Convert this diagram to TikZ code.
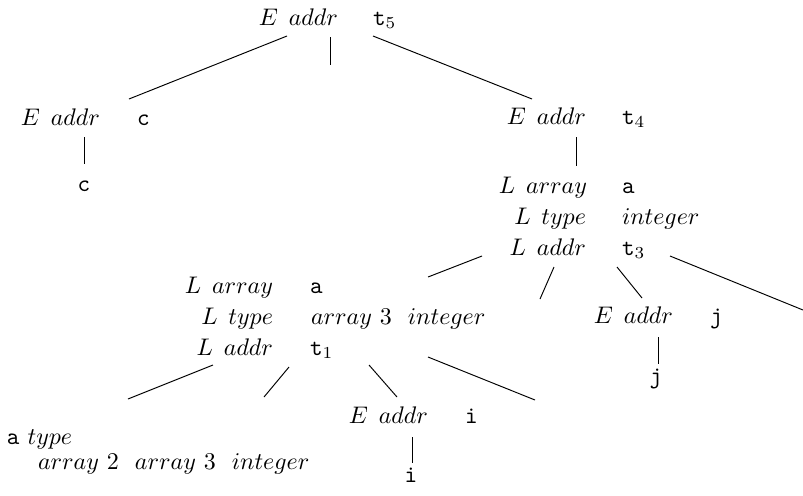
\documentclass[tikz,border=0pt]{standalone}
\newcommand{\tv}[1]{\texttt{#1}}
\newcommand{\at}[2]{$#1\hspace{4.5pt}#2$}
\begin{document}
\begin{tikzpicture}[x=0.4167pt,y=-0.4167pt,
  every node/.style={inner sep=0pt,outer sep=0pt},
  lbl/.style={anchor=base east},
  val/.style={anchor=base west},
  leaf/.style={anchor=base},
  edge/.style={line width=0.4pt}]
\useasboundingbox (0,0) rectangle (803,495);
% root
\node[lbl] (e5) at (338,25) {\at{E}{addr}};
\node[val] (t5) at (373,25) {\tv{t}$_5$};
% left child
\node[lbl] (ec) at (100,125) {\at{E}{addr}};
\node[val] (vc) at (137,125) {\tv{c}};
\node[leaf] (cleaf) at (84,191) {\tv{c}};
% right child
\node[lbl] (e4) at (586,124) {\at{E}{addr}};
\node[val] (t4) at (622,124) {\tv{t}$_4$};
\node[lbl] (la2) at (587,193) {\at{L}{array}};
\node[val] (va2) at (622,193) {\tv{a}};
\node[lbl] (lt2) at (586,224) {\at{L}{type}};
\node[val] (vt2) at (622,224) {$integer$};
\node[lbl] (ld2) at (586,255) {\at{L}{addr}};
\node[val] (t3) at (622,255) {\tv{t}$_3$};
% middle-left block
\node[lbl] (la1) at (273,293) {\at{L}{array}};
\node[val] (va1) at (310,293) {\tv{a}};
\node[lbl] (lt1) at (273,324) {\at{L}{type}};
\node[val] (vt1) at (311,324) {$array\ 3\ \ integer$};
\node[lbl] (ld1) at (273,355) {\at{L}{addr}};
\node[val] (t1) at (310,355) {\tv{t}$_1$};
% E addr j
\node[lbl] (ej) at (673,323) {\at{E}{addr}};
\node[val] (vj) at (710,323) {\tv{j}};
\node[leaf] (jleaf) at (656,383) {\tv{j}};
% E addr i
\node[lbl] (ei) at (428,423) {\at{E}{addr}};
\node[val] (vi) at (465,423) {\tv{i}};
\node[leaf] (ileaf) at (411,482) {\tv{i}};
% a type
\node[anchor=base west] (atype) at (7,444) {\tv{a} $type$};
\node[anchor=base west] (atval) at (38,469) {$array\ 2\ \ array\ 3\ \ integer$};
% connector end points
\coordinate (r1a) at (287,36);  \coordinate (r1b) at (129,99);
\coordinate (r2a) at (330,37);  \coordinate (r2b) at (330,65);
\coordinate (r3a) at (373,36);  \coordinate (r3b) at (532,99);
\coordinate (c1a) at (84,137);  \coordinate (c1b) at (84,164);
\coordinate (e4a) at (576,137); \coordinate (e4b) at (576,166);
\coordinate (m1a) at (482,256); \coordinate (m1b) at (428,277);
\coordinate (m2a) at (554,267); \coordinate (m2b) at (540,299);
\coordinate (m3a) at (617,267); \coordinate (m3b) at (642,298);
\coordinate (m4a) at (670,256); \coordinate (m4b) at (803,310);
\coordinate (n1a) at (213,365); \coordinate (n1b) at (128,399);
\coordinate (n2a) at (289,367); \coordinate (n2b) at (264,397);
\coordinate (n3a) at (369,365); \coordinate (n3b) at (397,397);
\coordinate (n4a) at (428,357); \coordinate (n4b) at (535,400);
\coordinate (j1a) at (658,337); \coordinate (j1b) at (658,364);
\coordinate (i1a) at (412,437); \coordinate (i1b) at (412,463);
% connectors
\draw[edge] (r1a) -- (r1b);
\draw[edge] (r2a) -- (r2b);
\draw[edge] (r3a) -- (r3b);
\draw[edge] (c1a) -- (c1b);
\draw[edge] (e4a) -- (e4b);
\draw[edge] (m1a) -- (m1b);
\draw[edge] (m2a) -- (m2b);
\draw[edge] (m3a) -- (m3b);
\draw[edge] (m4a) -- (m4b);
\draw[edge] (n1a) -- (n1b);
\draw[edge] (n2a) -- (n2b);
\draw[edge] (n3a) -- (n3b);
\draw[edge] (n4a) -- (n4b);
\draw[edge] (j1a) -- (j1b);
\draw[edge] (i1a) -- (i1b);
\end{tikzpicture}
\end{document}
